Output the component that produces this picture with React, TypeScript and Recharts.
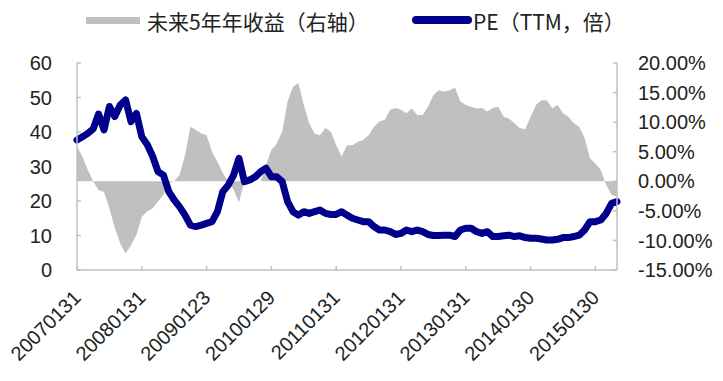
import React from 'react';
import { ComposedChart, Area, Line, XAxis, YAxis } from 'recharts';

// 月度序列：2007-01 ~ 2015-05，共 101 个点
const tickLabels = [
  '20070131', '20080131', '20090123', '20100129', '20110131',
  '20120131', '20130131', '20140130', '20150130',
];
const tickIdx = [0, 12, 24, 36, 48, 60, 72, 84, 96];

// PE（TTM，倍）
const pe = [
  37.7, 38.6, 39.6, 40.9, 45.2, 40.6, 47.4, 44.5, 47.8, 49.3, 43.0, 45.4,
  38.6, 36.4, 33.0, 28.5, 27.5, 22.7, 20.3, 18.3, 15.9, 13.0, 12.6, 13.0,
  13.5, 14.0, 16.9, 22.7, 24.6, 27.5, 32.4, 25.6, 26.1, 27.0, 28.5, 29.5,
  27.0, 27.0, 25.6, 19.8, 16.9, 15.9, 16.9, 16.4, 16.9, 17.4, 16.4, 16.1,
  16.1, 16.9, 15.9, 15.0, 14.5, 14.0, 14.0, 12.6, 11.6, 11.6, 11.1, 10.3,
  10.6, 11.6, 11.1, 11.6, 11.1, 10.3, 10.0, 10.0, 10.1, 10.1, 9.7, 11.6,
  12.1, 12.1, 11.1, 10.6, 11.1, 9.7, 9.7, 9.9, 10.1, 9.7, 9.9, 9.4,
  9.2, 9.2, 9.0, 8.7, 8.7, 8.9, 9.4, 9.4, 9.7, 10.1, 11.6, 14.0,
  14.0, 14.5, 16.4, 19.3, 19.8,
];

// 未来5年年收益（%，右轴）
const ret = [
  5.9, 4.2, 1.9, 0, -1.5, -1.8, -4.6, -7.9, -10.5, -12.2, -10.8, -9.1,
  -6.0, -5.1, -4.6, -3.4, -2.3, -0.3, 0, 1.1, 4.4, 9.2, 8.7, 8.1,
  7.8, 5.0, 3.3, 1.4, 0, -1.4, -3.6, 0, 0, 0, 0, 2.8,
  5.3, 6.4, 8.4, 13.5, 16.0, 16.6, 12.9, 9.8, 8.1, 7.8, 9.0, 8.4,
  6.1, 4.2, 6.1, 6.1, 6.7, 7.0, 7.8, 9.2, 10.1, 10.4, 12.1, 12.4,
  12.1, 11.5, 12.3, 11.2, 11.2, 12.6, 14.6, 15.4, 15.2, 15.4, 15.8, 13.5,
  12.9, 12.6, 12.3, 12.4, 11.8, 12.4, 12.6, 10.9, 10.6, 9.8, 9.0, 8.8,
  10.9, 12.9, 13.7, 13.7, 12.3, 12.9, 11.5, 10.9, 9.8, 9.2, 7.3, 3.9,
  3.0, 1.9, -0.6, -2.3, -2.6,
];

const leftTicks = [0, 10, 20, 30, 40, 50, 60];
const rightTicks = [-15, -10, -5, 0, 5, 10, 15, 20];

const data = pe.map((v, i) => ({ i, pe: v, ret: ret[i] }));

const AXIS = '#c0c0c0';
const FONT = '"Liberation Sans", Arial, sans-serif';
const CJK = '"Noto Sans CJK SC", "Liberation Sans", sans-serif';

const LeftTick = ({ x, y, payload }: any) => (
  <g>
    <line x1={x} x2={x + 4} y1={y} y2={y} stroke={AXIS} strokeWidth={1.5} />
    <text x={x - 25} y={y} dy="0.36em" textAnchor="end" fontSize={20} fontFamily={FONT} fill="#222">
      {payload.value}
    </text>
  </g>
);

const RightTick = ({ x, y, payload }: any) => (
  <g>
    <line x1={x} x2={x - 4} y1={y} y2={y} stroke={AXIS} strokeWidth={1.5} />
    <text x={x + 21} y={y} dy="0.36em" textAnchor="start" fontSize={20} fontFamily={FONT} fill="#222">
      {`${payload.value.toFixed(2)}%`}
    </text>
  </g>
);

const BottomTick = ({ x, y, payload, index }: any) => (
  <g>
    <line x1={x} x2={x} y1={y} y2={y - 4} stroke={AXIS} strokeWidth={1.5} />
    <text
      transform={`translate(${x + 5},${y + 29}) rotate(-45)`}
      textAnchor="end"
      fontSize={20}
      fontFamily={FONT}
      fill="#222"
    >
      {tickLabels[tickIdx.indexOf(payload.value)] ?? ''}
    </text>
  </g>
);

export default function App() {
  return (
    <div style={{ position: 'absolute', left: 0, top: 0, width: 723, height: 381, background: '#fff' }}>
      {/* 图例 */}
      <div style={{ position: 'absolute', left: 86, top: 17, width: 54, height: 7, background: '#c0c0c0' }} />
      <div style={{ position: 'absolute', left: 147, top: 6, fontSize: 21, lineHeight: '30px', fontFamily: CJK, color: '#222', whiteSpace: 'nowrap' }}>
        未来5年年收益（右轴）
      </div>
      <div style={{ position: 'absolute', left: 412, top: 16, width: 60, height: 8, borderRadius: 4, background: '#00008c' }} />
      <div style={{ position: 'absolute', left: 473, top: 6, fontSize: 21, lineHeight: '30px', fontFamily: CJK, color: '#222', whiteSpace: 'nowrap' }}>
        PE（TTM，倍）
      </div>

      <ComposedChart width={723} height={381} data={data} margin={{ top: 63, right: 0, bottom: 0, left: 0 }}>
        <XAxis
          dataKey="i"
          type="number"
          domain={[0, 100]}
          ticks={tickIdx}
          interval={0}
          height={111}
          tickSize={0}
          tickMargin={0}
          axisLine={{ stroke: AXIS, strokeWidth: 1.5 }}
          tickLine={false}
          tick={BottomTick}
        />
        <YAxis
          yAxisId="left"
          domain={[0, 60]}
          ticks={leftTicks}
          interval={0}
          width={77}
          tickSize={0}
          tickMargin={0}
          axisLine={{ stroke: AXIS, strokeWidth: 1.5 }}
          tickLine={false}
          tick={LeftTick}
        />
        <YAxis
          yAxisId="right"
          orientation="right"
          domain={[-15, 20]}
          ticks={rightTicks}
          interval={0}
          width={106}
          tickSize={0}
          tickMargin={0}
          axisLine={{ stroke: AXIS, strokeWidth: 1.5 }}
          tickLine={false}
          tick={RightTick}
        />
        <Area
          yAxisId="right"
          dataKey="ret"
          type="linear"
          fill="#c0c0c0"
          fillOpacity={1}
          stroke="none"
          isAnimationActive={false}
        />
        <Line
          yAxisId="left"
          dataKey="pe"
          type="linear"
          stroke="#00008c"
          strokeWidth={7}
          strokeLinejoin="round"
          strokeLinecap="round"
          dot={false}
          isAnimationActive={false}
        />
      </ComposedChart>
    </div>
  );
}
